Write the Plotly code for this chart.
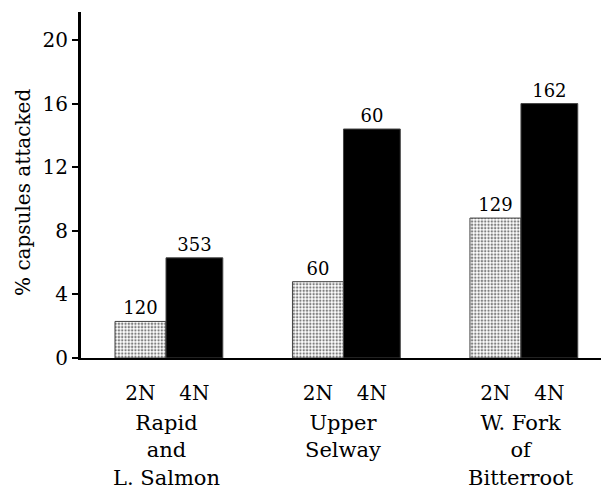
import plotly.graph_objects as go

groups = ["Rapid<br>and<br>L. Salmon", "Upper<br>Selway", "W. Fork<br>of<br>Bitterroot"]
vals_2n = [2.3, 4.8, 8.8]
vals_4n = [6.3, 14.4, 16.0]
n_2n = ["120", "60", "129"]
n_4n = ["353", "60", "162"]
y_ticks = [0, 4, 8, 12, 16, 20]

FONT = "DejaVu Serif"
idx = list(range(len(groups)))
x2 = [i - 0.144 for i in idx]
x4 = [i + 0.16 for i in idx]

fig = go.Figure()
fig.add_trace(go.Bar(
    x=x2, y=vals_2n, width=0.287, text=n_2n, textposition="outside",
    textfont=dict(family=FONT, size=18, color="black"),
    marker=dict(color="white", line=dict(color="#444", width=1),
                pattern=dict(shape=".", fgcolor="black", bgcolor="white", size=3.3, solidity=0.42)),
    cliponaxis=False, showlegend=False))
fig.add_trace(go.Bar(
    x=x4, y=vals_4n, width=0.32, text=n_4n, textposition="outside",
    textfont=dict(family=FONT, size=18, color="black"),
    marker=dict(color="black", line=dict(color="#444", width=1)),
    cliponaxis=False, showlegend=False))

for i, g in enumerate(groups):
    fig.add_annotation(x=i, xref="x", y=-0.1466, yref="paper", yanchor="top",
                       xanchor="center", text=g, showarrow=False,
                       font=dict(family=FONT, size=21, color="black"))

fig.add_annotation(x=-0.1115, xref="paper", y=0.477, yref="paper",
                   xanchor="center", yanchor="middle",
                   text="% capsules attacked", textangle=-90, showarrow=False,
                   font=dict(family=FONT, size=20, color="black"))

fig.update_layout(
    width=601, height=489,
    margin=dict(l=81, r=0, t=12, b=131),
    plot_bgcolor="white", paper_bgcolor="white",
    font=dict(family=FONT, size=20, color="black"),
    xaxis=dict(range=[-0.479, 2.451], showgrid=False, zeroline=False,
               showline=True, linecolor="black", linewidth=2,
               tickvals=x2 + x4, ticktext=["2N"] * len(x2) + ["4N"] * len(x4),
               ticks="outside", ticklen=16, tickcolor="rgba(0,0,0,0)",
               tickfont=dict(family=FONT, size=20, color="black")),
    yaxis=dict(range=[0, 21.76], showgrid=False, zeroline=False,
               showline=True, linecolor="black", linewidth=3,
               tickvals=y_ticks, ticks="outside", ticklen=6, tickwidth=2, tickcolor="black",
               tickfont=dict(family=FONT, size=20, color="black")),
)

fig.write_html("out.html")
